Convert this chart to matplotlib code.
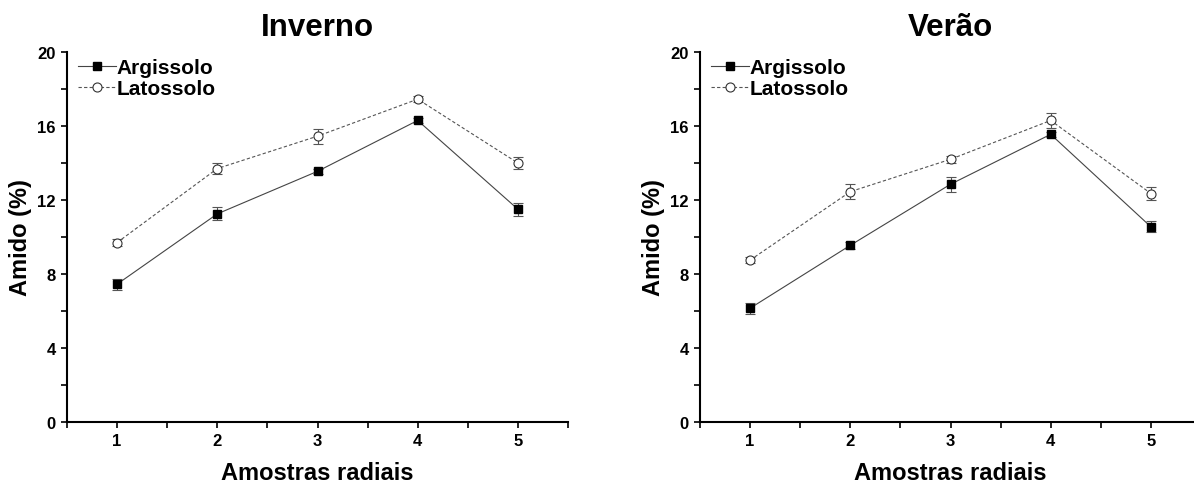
import matplotlib
matplotlib.use('Agg')
import matplotlib.pyplot as plt
from matplotlib.ticker import MultipleLocator
from matplotlib.lines import Line2D
import numpy as np

plt.rcParams['font.family'] = ['Liberation Sans', 'DejaVu Sans']
plt.rcParams['font.weight'] = 'bold'

# data
amostras = [1, 2, 3, 4, 5]
titulos = ['Inverno', 'Verão']

arg_inverno = [7.45, 11.25, 13.55, 16.3, 11.5]
arg_inverno_err = [0.3, 0.35, 0.15, 0.15, 0.35]
lat_inverno = [9.7, 13.7, 15.45, 17.45, 14.0]
lat_inverno_err = [0.2, 0.3, 0.4, 0.15, 0.35]

arg_verao = [6.15, 9.55, 12.85, 15.55, 10.55]
arg_verao_err = [0.3, 0.2, 0.4, 0.15, 0.3]
lat_verao = [8.75, 12.45, 14.2, 16.3, 12.35]
lat_verao_err = [0.15, 0.4, 0.2, 0.4, 0.35]

W, H = 1194, 485
fig = plt.figure(figsize=(W / 100, H / 100), dpi=100)

# axes boxes in pixels: left, right, bottom(y=0), top(y=20)
boxes = [(67, 568, 423, 53), (700, 1201, 423, 53)]
series = [(arg_inverno, arg_inverno_err, lat_inverno, lat_inverno_err),
          (arg_verao, arg_verao_err, lat_verao, lat_verao_err)]

arg_style = dict(color='#444444', lw=0.8, marker='s', ms=6,
                 mfc='black', mec='black')
lat_style = dict(color='#555555', lw=0.8, ls=(0, (3, 2)), marker='o', ms=6.5,
                 mfc='white', mec='#333333', mew=0.8)
err_style = dict(ecolor='#555555', elinewidth=0.8, capsize=3.5, capthick=0.8)

for (x0, x1, yb, yt), titulo, (a, ae, l, le) in zip(boxes, titulos, series):
    ax = fig.add_axes([x0 / W, 1 - yb / H, (x1 - x0) / W, (yb - yt) / H])

    ax.errorbar(amostras, a, yerr=ae, **arg_style, **err_style)
    ax.errorbar(amostras, l, yerr=le, **lat_style, **err_style)

    ax.set_xlim(0.5, 5.5)
    ax.set_ylim(0, 20)
    ax.xaxis.set_major_locator(MultipleLocator(1))
    ax.xaxis.set_minor_locator(MultipleLocator(0.5))
    ax.yaxis.set_major_locator(MultipleLocator(4))
    ax.yaxis.set_minor_locator(MultipleLocator(2))
    ax.tick_params(which='both', direction='out', length=4, width=1.2,
                   labelsize=12, pad=4)
    for sp in ['top', 'right']:
        ax.spines[sp].set_visible(False)
    for sp in ['left', 'bottom']:
        ax.spines[sp].set_linewidth(1.5)

    ax.set_xlabel('Amostras radiais', fontsize=17, fontweight='bold', labelpad=9)
    ax.set_ylabel('Amido (%)', fontsize=17, fontweight='bold', labelpad=4)
    ax.set_title(titulo, fontsize=22.5, fontweight='bold', pad=12)

    handles = [Line2D([], [], **arg_style), Line2D([], [], **lat_style)]
    ax.legend(handles, ['Argissolo', 'Latossolo'], loc='upper left',
              bbox_to_anchor=(0.01, 1.0), frameon=False,
              fontsize=15, handlelength=1.8, handletextpad=0.05,
              labelspacing=0.1, borderaxespad=0, borderpad=0.3)

fig.savefig('out.png', dpi=100)
